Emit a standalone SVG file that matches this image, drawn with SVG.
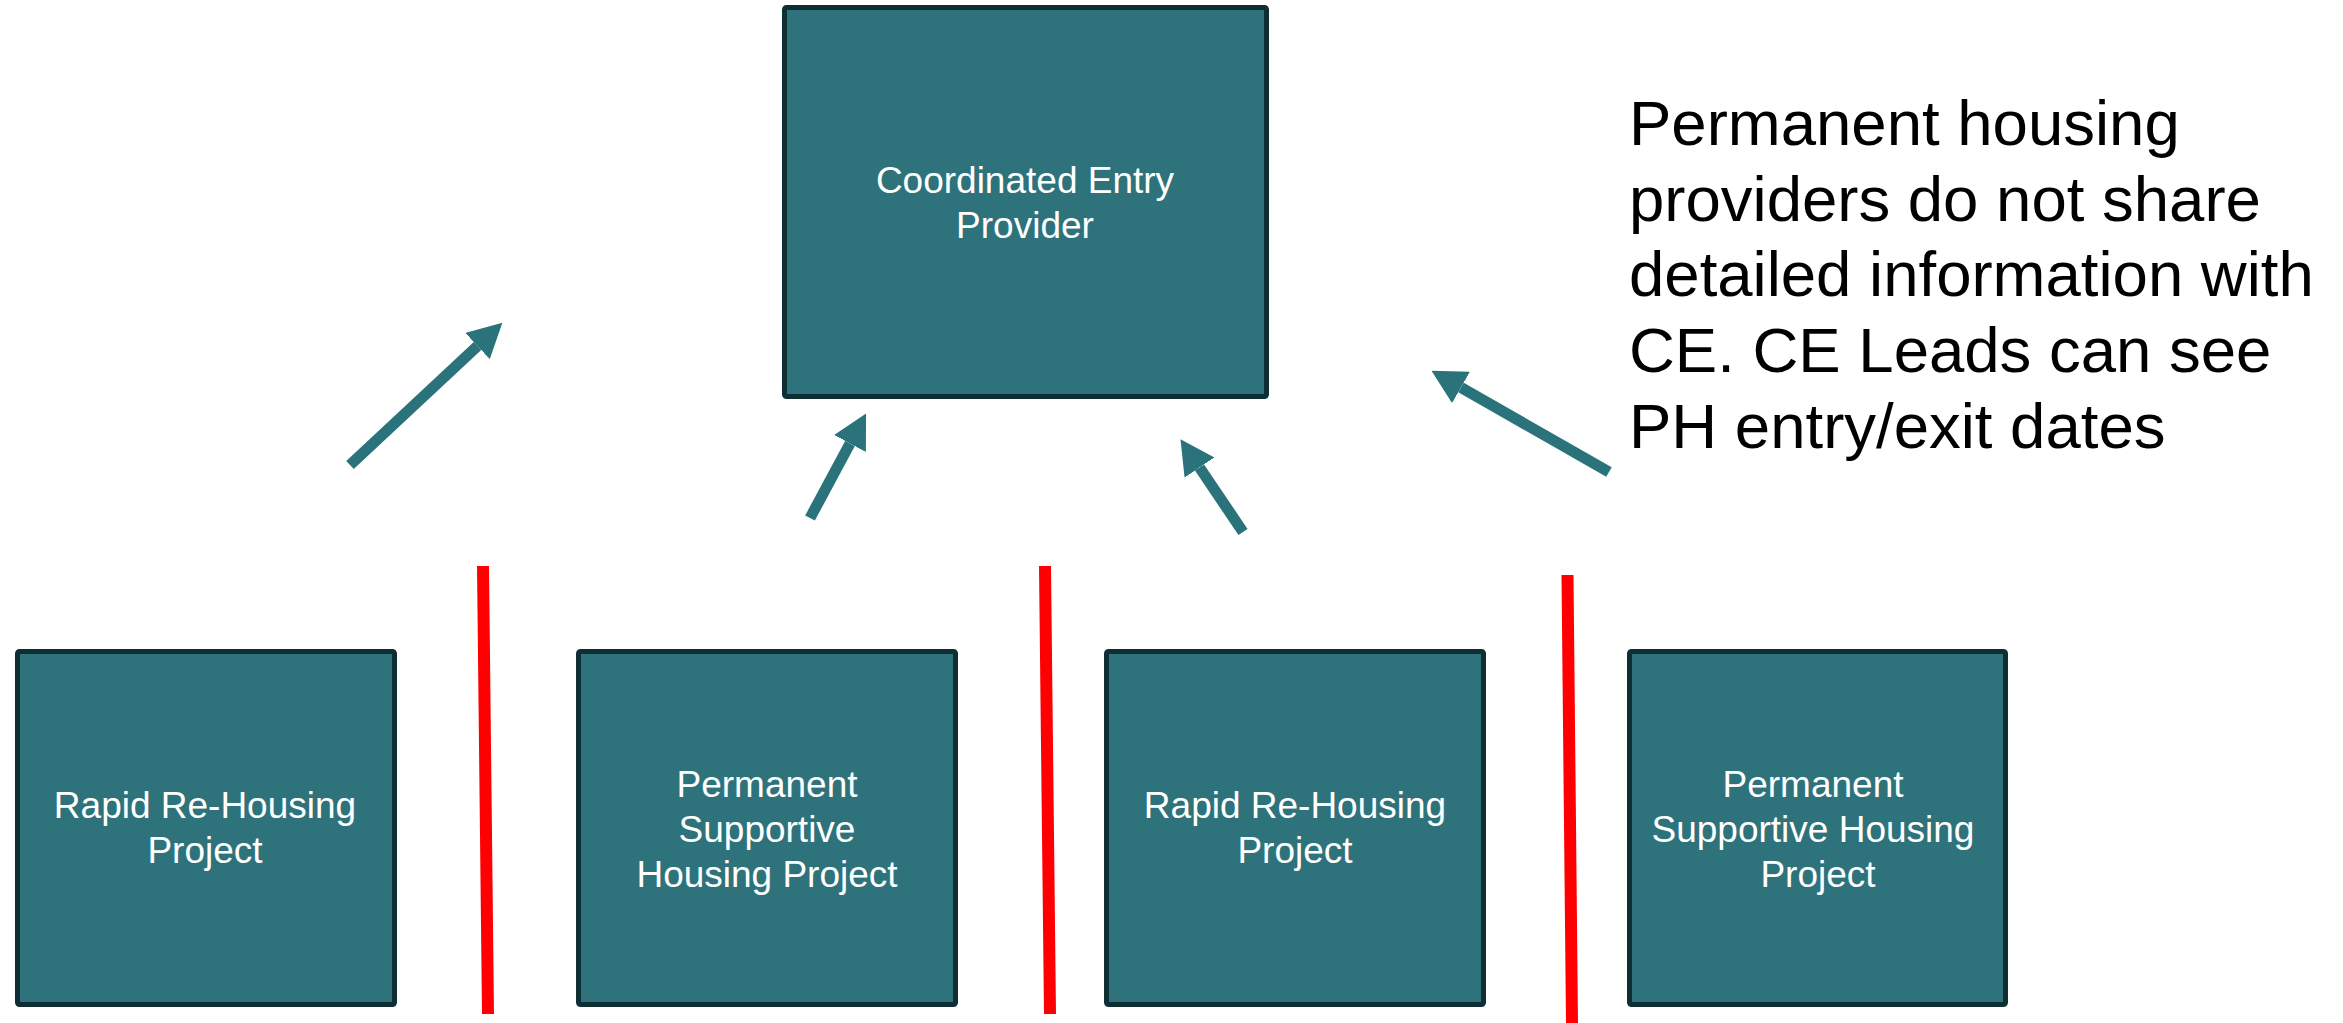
<svg xmlns="http://www.w3.org/2000/svg" width="2343" height="1023" viewBox="0 0 2343 1023">
<style>
.box{fill:#2e737b;stroke:#0f2e33;stroke-width:5}
.lbl{font-family:"Liberation Sans",Arial,sans-serif;font-size:37px;fill:#ffffff;text-anchor:middle}
.arr{stroke:#2a737b;stroke-width:11;fill:none;marker-end:url(#ah)}
.sep{stroke:#ff0000;stroke-width:12}
.note{font-family:"Liberation Sans",Arial,sans-serif;font-size:63.5px;fill:#000000}
</style>
<defs>
<marker id="ah" markerUnits="userSpaceOnUse" viewBox="0 0 34 36" refX="0" refY="18" markerWidth="34" markerHeight="36" orient="auto">
<path d="M0,0 L34,18 L0,36 z" fill="#2a737b"/>
</marker>
</defs>
<rect width="2343" height="1023" fill="#ffffff"/>
<g id="ce-provider">
<rect class="box" x="784.5" y="7.5" width="482" height="389" rx="2"/>
<text class="lbl"><tspan x="1025" y="193">Coordinated Entry</tspan><tspan x="1025" y="238">Provider</tspan></text>
</g>
<g id="rrh-1">
<rect class="box" x="17.5" y="651.5" width="377" height="353" rx="2"/>
<text class="lbl"><tspan x="205" y="818">Rapid Re-Housing</tspan><tspan x="205" y="863">Project</tspan></text>
</g>
<g id="psh-1">
<rect class="box" x="578.5" y="651.5" width="377" height="353" rx="2"/>
<text class="lbl"><tspan x="767" y="797">Permanent</tspan><tspan x="767" y="842">Supportive</tspan><tspan x="767" y="887">Housing Project</tspan></text>
</g>
<g id="rrh-2">
<rect class="box" x="1106.5" y="651.5" width="377" height="353" rx="2"/>
<text class="lbl"><tspan x="1295" y="818">Rapid Re-Housing</tspan><tspan x="1295" y="863">Project</tspan></text>
</g>
<g id="psh-2">
<rect class="box" x="1629.5" y="651.5" width="376" height="353" rx="2"/>
<text class="lbl"><tspan x="1813" y="797">Permanent</tspan><tspan x="1813" y="842">Supportive Housing</tspan><tspan x="1818" y="887">Project</tspan></text>
</g>
<g id="connectors">
<line class="arr" x1="350" y1="465" x2="477.5" y2="346"/>
<line class="arr" x1="810" y1="518" x2="850" y2="443.5"/>
<line class="arr" x1="1243" y1="532" x2="1199.5" y2="467.5"/>
<line class="arr" x1="1609" y1="472" x2="1461" y2="387.5"/>
</g>
<g id="separators">
<line class="sep" x1="483" y1="566" x2="488" y2="1014"/>
<line class="sep" x1="1045" y1="566" x2="1050" y2="1014"/>
<line class="sep" x1="1567.5" y1="575" x2="1572" y2="1023"/>
</g>
<g id="note">
<text class="note" x="1629" y="145">Permanent housing</text>
<text class="note" x="1629" y="221">providers do not share</text>
<text class="note" x="1629" y="296">detailed information with</text>
<text class="note" x="1629" y="372">CE. CE Leads can see</text>
<text class="note" x="1629" y="448">PH entry/exit dates</text>
</g>
</svg>
